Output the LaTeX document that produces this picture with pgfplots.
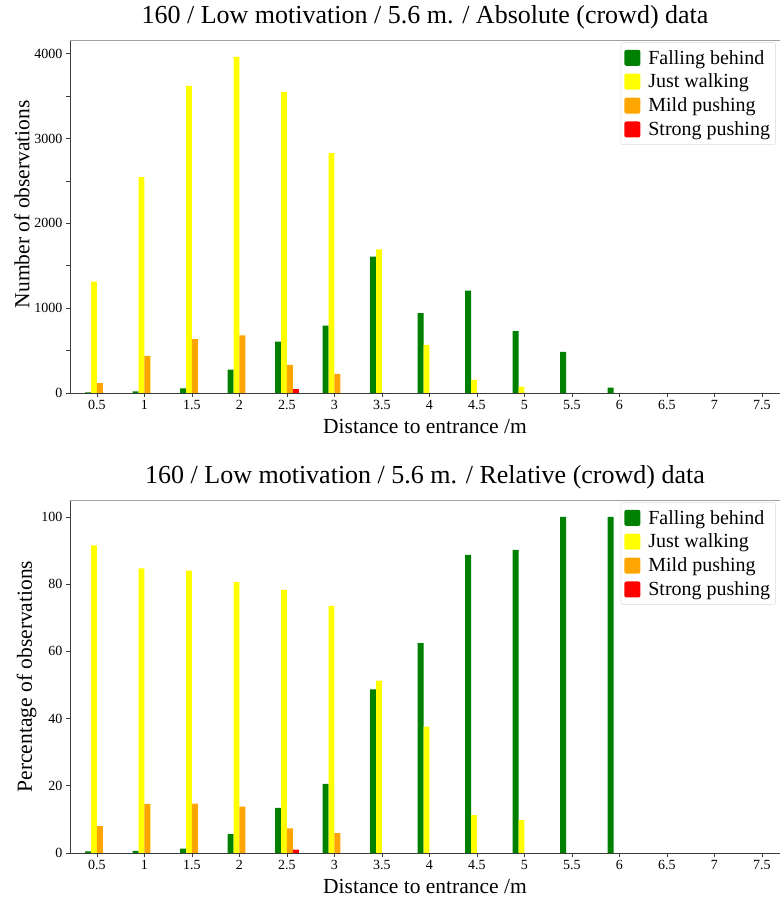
\documentclass[border=0pt]{standalone}
\usepackage{fontspec}
\setmainfont{Liberation Serif}
\usepackage{pgfplots}
\usepackage{pgfplotstable}
\pgfplotsset{compat=1.18}

\definecolor{mgreen}{RGB}{0,128,0}
\definecolor{myellow}{RGB}{255,255,0}
\definecolor{morange}{RGB}{255,165,0}
\definecolor{mred}{RGB}{255,0,0}
\definecolor{spine}{RGB}{60,60,60}
\definecolor{topspine}{RGB}{160,160,160}

\pgfplotstableread{
x g y o r
0.5 7 1314 115 0
1 20 2544 438 0
1.5 55 3621 635 0
2 276 3964 678 0
2.5 607 3550 331 47
3 793 2828 225 0
3.5 1609 1692 0 0
4 943 568 0 0
4.5 1207 154 0 0
5 730 75 0 0
5.5 485 0 0 0
6 63 0 0 0
6.5 0 0 0 0
7 0 0 0 0
7.5 0 0 0 0
}\abs

\pgfplotstableread{
x g y o r
0.5 0.5 91.5 8.0 0
1 0.67 84.7 14.6 0
1.5 1.3 84.0 14.7 0
2 5.6 80.6 13.8 0
2.5 13.4 78.3 7.3 1.0
3 20.6 73.5 5.9 0
3.5 48.7 51.3 0 0
4 62.4 37.6 0 0
4.5 88.7 11.3 0 0
5 90.2 9.8 0 0
5.5 100 0 0 0
6 100 0 0 0
6.5 0 0 0 0
7 0 0 0 0
7.5 0 0 0 0
}\rel

\pgfplotsset{
  myax/.style={
    scale only axis,
    width=710pt, height=353pt,
    xmin=0.216, xmax=7.69,
    ymin=0,
    ybar, bar width=0.0625,
    xtick={0.5,1,1.5,2,2.5,3,3.5,4,4.5,5,5.5,6,6.5,7,7.5},
    xticklabels={0.5,1,1.5,2,2.5,3,3.5,4,4.5,5,5.5,6,6.5,7,7.5},
    tick pos=left, tick align=outside,
    major tick length=4pt, minor tick length=4pt,
    every tick/.style={spine, line width=0.6pt},
    /pgf/number format/assume math mode=true,
    /pgf/number format/1000 sep={},
    ticklabel style={font=\fontsize{14}{16}\selectfont},
    scaled y ticks=false,
    axis line style={draw=none},
    label style={font=\fontsize{21.5}{26}\selectfont},
    title style={font=\fontsize{26}{30}\selectfont, yshift=1pt},
    xlabel={Distance to entrance /m},
    xlabel style={yshift=-2pt},
    ylabel style={yshift=-2pt},
    legend style={font=\fontsize{20}{24}\selectfont, at={(0.994,0.993)}, anchor=north east,
      draw=black!15, rounded corners=2pt, row sep=5.5pt, inner sep=3.5pt,
      inner ysep=6pt,
      nodes={inner ysep=1.5pt}},
    legend cell align=left,
    after end axis/.code={
      \draw[spine, line width=0.8pt] (rel axis cs:0,1) -- (rel axis cs:0,0) -- (rel axis cs:1,0);
      \draw[topspine, line width=0.8pt] (rel axis cs:0,1) -- (rel axis cs:1,1);
    },
  },
  legsq/.style={legend image code/.code={\fill[##1] (0pt,-8pt) rectangle (16pt,8pt); \path (22pt,0pt);}},
}

\begin{document}
\begin{tikzpicture}
\begin{axis}[myax, at={(0,0)}, anchor=north west,
  ymax=4162,
  ytick={0,1000,2000,3000,4000},
  minor y tick num=1,
  ylabel={Number of observations},
  ylabel style={at={(ticklabel cs:0.535)}},
  title={160 / Low motivation / 5.6 m. / Absolute (crowd) data},
]
\addplot[fill=mgreen, draw=none, bar shift=-0.09375, legsq] table[x=x,y=g]{\abs};
\addplot[fill=myellow, draw=none, bar shift=-0.03125, legsq] table[x=x,y=y]{\abs};
\addplot[fill=morange, draw=none, bar shift=0.03125, legsq] table[x=x,y=o]{\abs};
\addplot[fill=mred, draw=none, bar shift=0.09375, legsq] table[x=x,y=r]{\abs};
\legend{Falling behind, Just walking, Mild pushing, Strong pushing}
\end{axis}

\begin{axis}[myax, at={(0,-460pt)}, anchor=north west,
  ymax=105,
  ytick={0,20,40,60,80,100},
  ylabel={Percentage of observations},
  title={160 / Low motivation / 5.6 m. / Relative (crowd) data},
]
\addplot[fill=mgreen, draw=none, bar shift=-0.09375, legsq] table[x=x,y=g]{\rel};
\addplot[fill=myellow, draw=none, bar shift=-0.03125, legsq] table[x=x,y=y]{\rel};
\addplot[fill=morange, draw=none, bar shift=0.03125, legsq] table[x=x,y=o]{\rel};
\addplot[fill=mred, draw=none, bar shift=0.09375, legsq] table[x=x,y=r]{\rel};
\legend{Falling behind, Just walking, Mild pushing, Strong pushing}
\end{axis}
\pgfresetboundingbox
\path[use as bounding box] (-70pt,40pt) rectangle (710pt,-859pt);
\end{tikzpicture}
\end{document}
